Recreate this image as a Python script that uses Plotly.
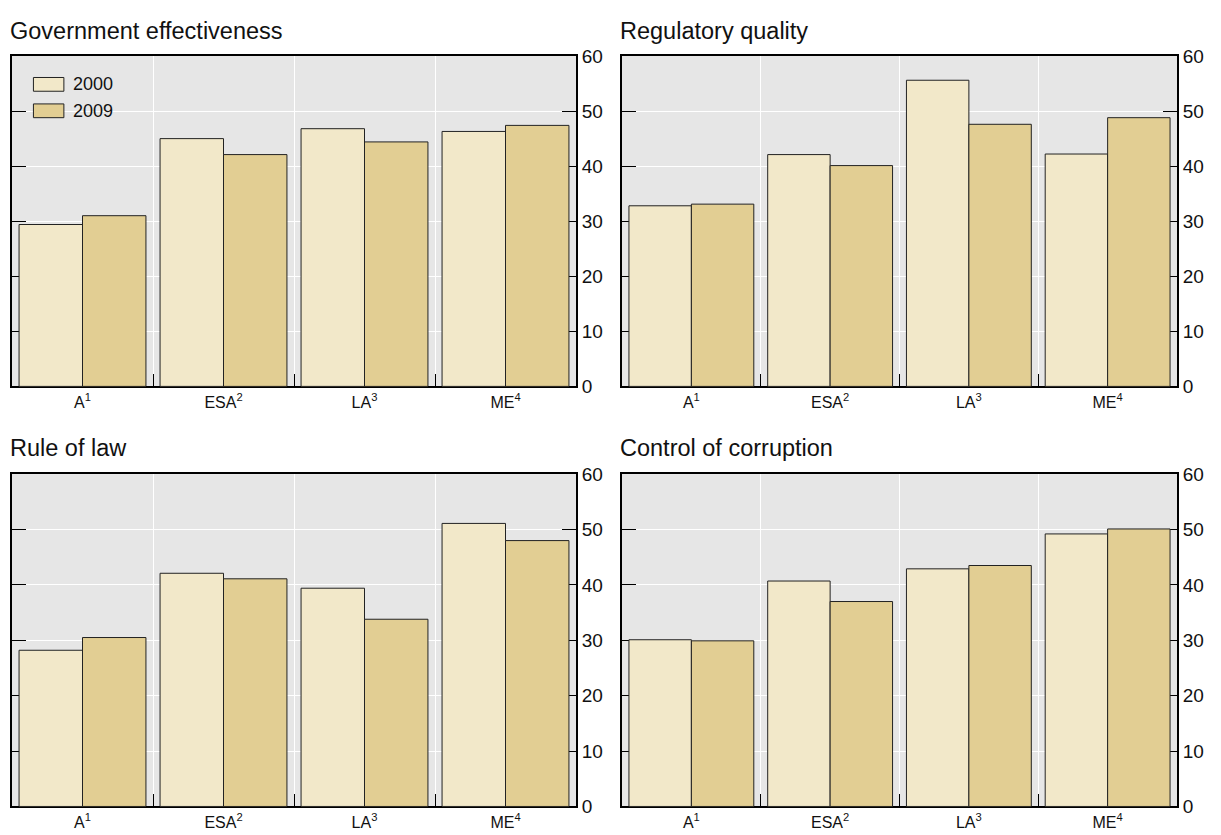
import plotly.graph_objects as go
from plotly.subplots import make_subplots

categories = ["A<sup>1</sup>", "ESA<sup>2</sup>", "LA<sup>3</sup>", "ME<sup>4</sup>"]
years = ["2000", "2009"]
panel_titles = ["Government effectiveness", "Regulatory quality", "Rule of law", "Control of corruption"]

gov_2000 = [29.4, 45.0, 46.8, 46.3]
gov_2009 = [31.0, 42.1, 44.4, 47.4]
reg_2000 = [32.8, 42.1, 55.6, 42.2]
reg_2009 = [33.1, 40.1, 47.6, 48.8]
rol_2000 = [28.2, 42.1, 39.4, 51.1]
rol_2009 = [30.5, 41.1, 33.8, 48.0]
coc_2000 = [30.1, 40.7, 42.9, 49.2]
coc_2009 = [29.9, 37.0, 43.5, 50.1]

y_ticks = [0, 10, 20, 30, 40, 50, 60]

panels = [(gov_2000, gov_2009), (reg_2000, reg_2009), (rol_2000, rol_2009), (coc_2000, coc_2009)]
colors = {"2000": "#F2E8C9", "2009": "#E2CE93"}

W, H = 1213, 827
fig = make_subplots(rows=2, cols=2)

positions = [(1, 1), (1, 2), (2, 1), (2, 2)]
for (r, c), (v0, v9) in zip(positions, panels):
    for yr, vals in zip(years, (v0, v9)):
        fig.add_trace(go.Bar(x=categories, y=vals, name=yr,
                             marker=dict(color=colors[yr], line=dict(color="#222222", width=1)),
                             showlegend=False), row=r, col=c)

# domains in pixels (figure coords)
xdoms = [(4, 568), (614, 1169)]
ydoms_px = [(39, 378), (468, 809)]

def xd(a, b):
    return [a / W, b / W]

def yd(top, bot):
    return [1 - bot / H, 1 - top / H]

font_fam = "Liberation Sans, Arial, sans-serif"
for i, (r, c) in enumerate(positions):
    n = i + 1
    xa = "xaxis" if n == 1 else f"xaxis{n}"
    ya = "yaxis" if n == 1 else f"yaxis{n}"
    fig.layout[xa].update(domain=xd(*xdoms[c - 1]), type="category", range=[-0.5, 3.5],
                          tickson="boundaries", ticks="inside", ticklen=12, tickcolor="#000", tickwidth=1,
                          showgrid=True, gridcolor="white", gridwidth=1,
                          showline=True, linecolor="#000", linewidth=2, mirror=True,
                          layer="below traces", tickfont=dict(size=16, color="#111", family=font_fam))
    fig.layout[ya].update(domain=yd(*ydoms_px[r - 1]), side="right", range=[0, 60], tickvals=y_ticks,
                          ticks="inside", ticklen=14, tickcolor="#000", tickwidth=1,
                          showgrid=True, gridcolor="white", gridwidth=1, zeroline=False,
                          showline=True, linecolor="#000", linewidth=2, mirror="ticks",
                          layer="below traces", tickfont=dict(size=19, color="#111", family=font_fam))

annotations = []
title_pos = [(0, 13), (610, 13), (0, 441), (610, 441)]
for t, (px, py) in zip(panel_titles, title_pos):
    annotations.append(dict(text=t, xref="paper", yref="paper", x=px / W, y=1 - py / H,
                            xanchor="left", yanchor="middle",
                            showarrow=False, font=dict(size=23.5, color="#111", family=font_fam)))

# legend inside first panel
legend_items = [("2000", 53.6, 56.1), ("2009", 48.8, 51.3)]
shapes = []
for yr, y0, y1 in legend_items:
    shapes.append(dict(type="rect", xref="x domain", yref="y", x0=0.038, x1=0.092, y0=y0, y1=y1,
                       fillcolor=colors[yr], line=dict(color="#222222", width=1), layer="above"))
    annotations.append(dict(text=yr, xref="x domain", yref="y", x=0.105, y=(y0 + y1) / 2,
                            xanchor="left", yanchor="middle",
                            showarrow=False, font=dict(size=18, color="#111", family=font_fam)))

fig.update_layout(width=W, height=H, margin=dict(l=0, r=0, t=0, b=0), autosize=False,
                  paper_bgcolor="white", plot_bgcolor="#E6E6E6",
                  barmode="group", bargap=0.1, bargroupgap=0,
                  annotations=annotations, shapes=shapes, showlegend=False,
                  font=dict(family=font_fam))

fig.write_html("out.html")
